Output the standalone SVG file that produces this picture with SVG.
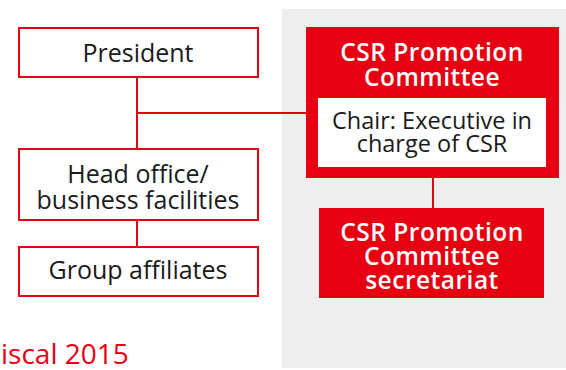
<svg xmlns="http://www.w3.org/2000/svg" width="566" height="370" viewBox="0 0 566 370">
<style>
.box{fill:#fff;stroke:#e60012;stroke-width:2}
.red{fill:#e60012}
.t{font-family:"Open Sans","Noto Sans","Liberation Sans",sans-serif;font-size:25px;fill:#1a1a1a;text-anchor:middle}
.c{font-size:23.5px}
.w{font-family:"Open Sans","Noto Sans","Liberation Sans",sans-serif;font-size:24.5px;font-weight:600;letter-spacing:0.5px;fill:#fff;text-anchor:middle}
.conn{stroke:#e60012;stroke-width:2;fill:none}
</style>
<rect x="282" y="9" width="284" height="359" fill="#eeeeee"/>
<g id="connectors">
<line class="conn" x1="137" y1="78" x2="137" y2="148"/>
<line class="conn" x1="137" y1="113" x2="306" y2="113"/>
<line class="conn" x1="137" y1="221" x2="137" y2="246"/>
<line class="conn" x1="433" y1="178" x2="433" y2="208"/>
</g>
<g id="president">
<rect class="box" x="19" y="28" width="239" height="49"/>
<text class="t" x="138" y="62">President</text>
</g>
<g id="head-office">
<rect class="box" x="19" y="149" width="239" height="71"/>
<text class="t" x="138" y="183">Head office/</text>
<text class="t" x="138" y="209">business facilities</text>
</g>
<g id="group-affiliates">
<rect class="box" x="19" y="247" width="239" height="49"/>
<text class="t" x="138" y="279">Group affiliates</text>
</g>
<g id="csr-committee">
<rect class="red" x="306" y="27" width="253" height="151"/>
<text class="w" x="432" y="61">CSR Promotion</text>
<text class="w" x="432" y="86">Committee</text>
<rect x="318" y="98" width="228" height="69" fill="#fff"/>
<text class="t c" x="432" y="129">Chair: Executive in</text>
<text class="t c" x="432" y="152">charge of CSR</text>
</g>
<g id="csr-secretariat">
<rect class="red" x="319" y="208" width="225" height="90"/>
<text class="w" x="432" y="241">CSR Promotion</text>
<text class="w" x="432" y="265">Committee</text>
<text class="w" x="432" y="289">secretariat</text>
</g>
<text x="1" y="364" font-family="'Open Sans','Noto Sans','Liberation Sans',sans-serif" font-size="28" fill="#e60012">iscal 2015</text>
</svg>
